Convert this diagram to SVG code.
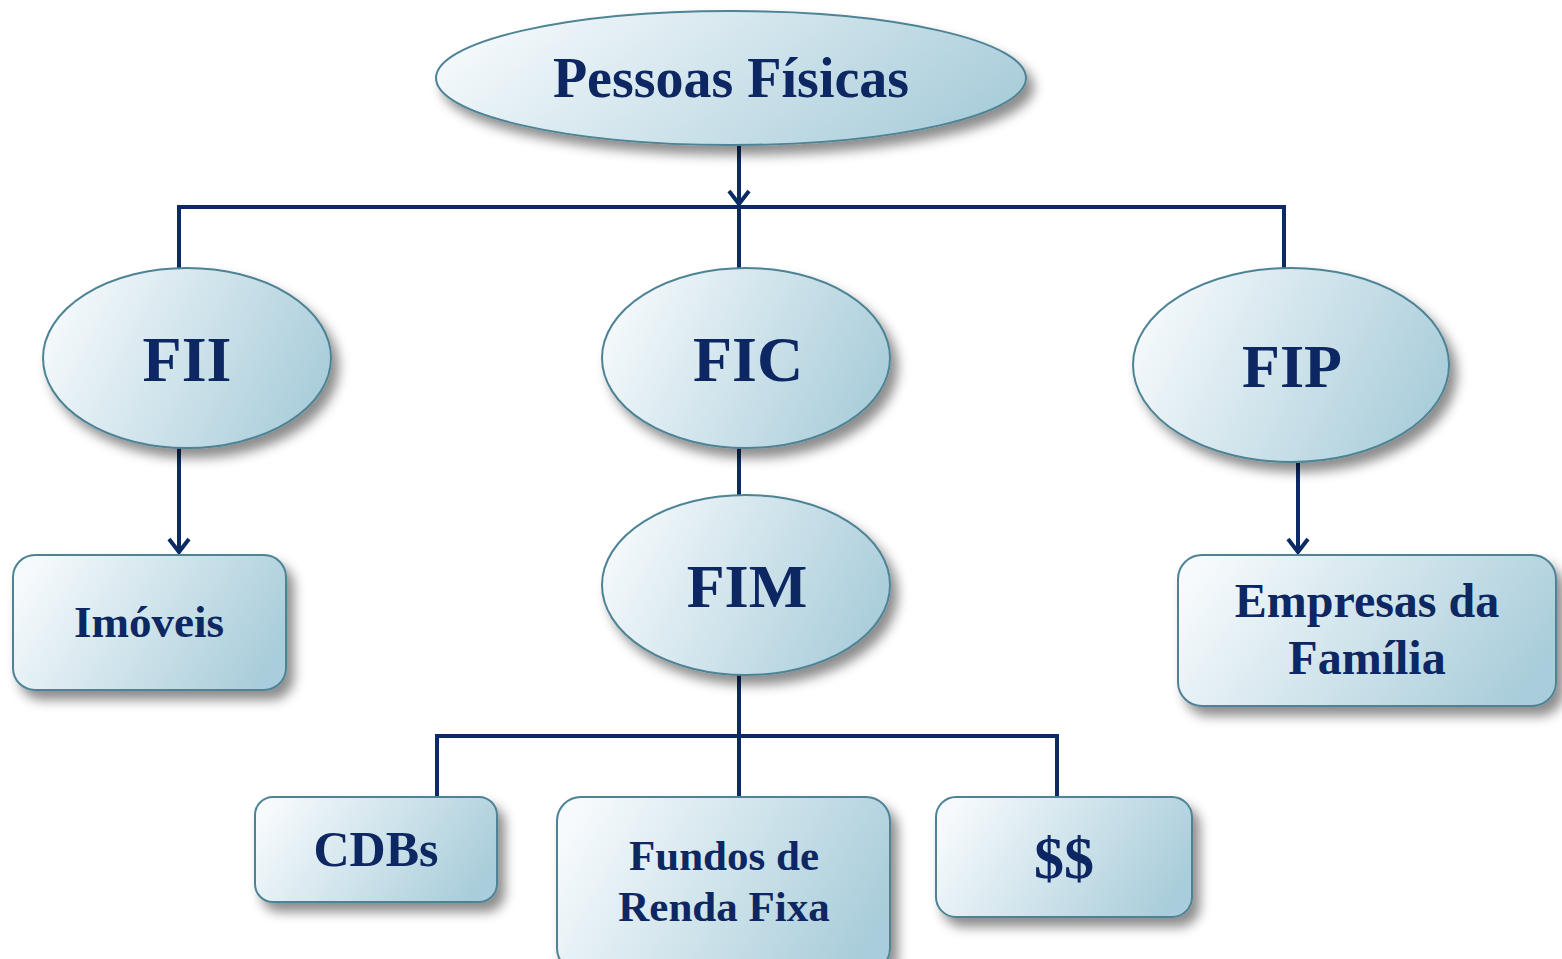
<svg xmlns="http://www.w3.org/2000/svg" width="1562" height="959" viewBox="0 0 1562 959">
<defs>
<linearGradient id="g" x1="0" y1="0.3" x2="1" y2="0.6">
<stop offset="0" stop-color="#f6fafc"/>
<stop offset="1" stop-color="#a9cdda"/>
</linearGradient>
<filter id="sh" x="-20%" y="-20%" width="150%" height="160%">
<feDropShadow dx="7" dy="9" stdDeviation="6" flood-color="#000" flood-opacity="0.45"/>
</filter>
<marker id="arr" viewBox="0 0 20 24" refX="18" refY="12" markerWidth="20" markerHeight="24" markerUnits="userSpaceOnUse" orient="auto">
<path d="M5,2 L18,12 L5,22" fill="none" stroke="#0c2a64" stroke-width="4" stroke-linejoin="miter"/>
</marker>
<style>
.n{fill:url(#g);stroke:#4d8395;stroke-width:2;filter:url(#sh)}
.t{font-family:"Liberation Serif","Times New Roman",serif;font-weight:bold;fill:#0d2762;text-anchor:middle}
.c{stroke:#0c2a64;stroke-width:4;fill:none}
</style>
</defs>
<g id="connectors">
<path class="c" d="M739,145 V204" marker-end="url(#arr)"/>
<path class="c" d="M179,268 V207 H1284 V268"/>
<path class="c" d="M739,207 V268"/>
<path class="c" d="M179,448 V552" marker-end="url(#arr)"/>
<path class="c" d="M739,448 V495"/>
<path class="c" d="M1298,463 V552" marker-end="url(#arr)"/>
<path class="c" d="M739,675 V797"/>
<path class="c" d="M437,797 V736 H1057 V797"/>
</g>
<g id="pessoas"><ellipse class="n" cx="731" cy="78" rx="295" ry="67"/><text class="t" x="731" y="97" font-size="56">Pessoas Físicas</text></g>
<g id="fii"><ellipse class="n" cx="187" cy="358" rx="144" ry="90"/><text class="t" x="187" y="381" font-size="64">FII</text></g>
<g id="fic"><ellipse class="n" cx="746" cy="358" rx="144" ry="90"/><text class="t" x="748" y="381" font-size="64">FIC</text></g>
<g id="fip"><ellipse class="n" cx="1291" cy="365" rx="158" ry="97"/><text class="t" x="1292" y="387" font-size="62">FIP</text></g>
<g id="fim"><ellipse class="n" cx="746" cy="585" rx="144" ry="90"/><text class="t" x="747" y="607" font-size="62">FIM</text></g>
<g id="imoveis"><rect class="n" x="13" y="555" width="273" height="135" rx="22"/><text class="t" x="149" y="637" font-size="45">Imóveis</text></g>
<g id="empresas"><rect class="n" x="1178" y="555" width="378" height="151" rx="24"/><text class="t" x="1367" y="617" font-size="48">Empresas da</text><text class="t" x="1367" y="674" font-size="48">Família</text></g>
<g id="cdbs"><rect class="n" x="255" y="797" width="242" height="105" rx="18"/><text class="t" x="376" y="866" font-size="50">CDBs</text></g>
<g id="fundos"><rect class="n" x="557" y="797" width="333" height="175" rx="24"/><text class="t" x="724" y="870" font-size="43">Fundos de</text><text class="t" x="724" y="921" font-size="43">Renda Fixa</text></g>
<g id="dollars"><rect class="n" x="936" y="797" width="256" height="120" rx="20"/><text class="t" x="1064" y="878" font-size="60">$$</text></g>
</svg>
